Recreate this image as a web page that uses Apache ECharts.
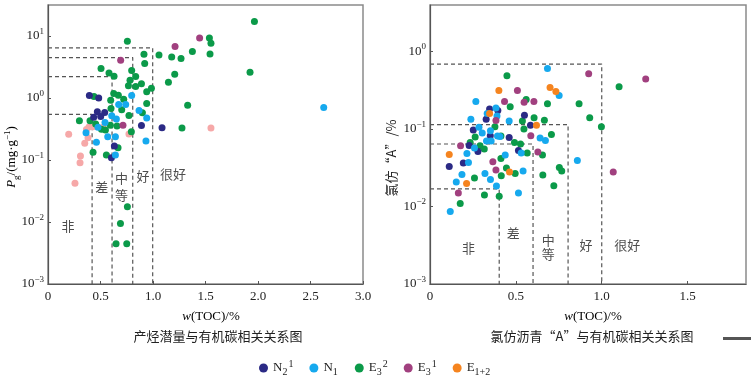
<!DOCTYPE html>
<html><head><meta charset="utf-8">
<script src="https://cdn.jsdelivr.net/npm/echarts@6/dist/echarts.min.js"></script>
<style>html,body{margin:0;padding:0;background:#fff}#c{width:751px;height:375px}</style>
</head><body><div id="c"></div><script>
// ---------- data (left: Pg vs TOC) ----------
const leftN21 = [[0.394,1.10],[0.483,1.0],[0.47,0.60],[0.435,0.49],[0.502,0.505],[0.54,0.585],[0.632,0.168],[0.604,0.109],[0.89,0.36],[1.086,0.33]];
const leftN1 = [[0.797,1.10],[0.673,0.787],[0.74,0.787],[0.607,0.516],[0.651,0.457],[0.867,0.63],[0.94,0.474],[0.543,0.404],[0.476,0.336],[0.362,0.275],[0.569,0.237],[0.642,0.237],[0.461,0.193],[0.642,0.12],[0.933,0.202],[2.626,0.70]];
const leftE32 = [[0.756,8.2],[0.505,2.99],[0.581,2.54],[0.629,2.25],[0.797,2.77],[0.835,2.22],[0.781,1.94],[0.766,1.57],[0.835,1.53],[0.89,1.69],[0.914,5.08],[0.921,3.6],[0.94,1.26],[0.985,1.44],[0.94,0.817],[0.899,0.577],[1.057,4.95],[1.178,4.59],[1.267,4.33],[1.375,5.61],[1.207,2.42],[1.147,1.80],[1.537,9.29],[1.552,7.63],[1.543,5.13],[1.966,17.1],[1.924,2.61],[1.33,0.767],[1.276,0.327],[0.438,1.06],[0.299,0.429],[0.626,1.18],[0.67,1.11],[0.721,0.958],[0.597,0.92],[0.6,0.679],[0.702,0.645],[0.771,0.524],[0.4,0.429],[0.454,0.38],[0.509,0.312],[0.547,0.304],[0.594,0.365],[0.657,0.352],[0.794,0.285],[0.429,0.133],[0.556,0.12],[0.667,0.158],[0.756,0.0177],[0.69,0.00944],[0.648,0.00445],[0.75,0.00445]];
const leftE31 = [[0.692,4.06],[1.444,9.29],[1.21,6.75],[0.714,0.362]];
const leftOther = [[0.197,0.26],[0.39,0.34],[0.381,0.229],[0.35,0.186],[0.524,0.336],[0.309,0.116],[0.305,0.0905],[0.257,0.0423],[0.771,0.262],[1.552,0.327],[0.429,0.344],[0.366,0.31]];
// ---------- data (right: chloroform bitumen "A" vs TOC) ----------
const rightN21 = [[0.347,0.181],[0.327,0.134],[0.395,0.173],[0.55,0.15],[0.585,0.112],[0.252,0.0969],[0.351,0.0818],[0.461,0.0778],[0.228,0.0613],[0.279,0.0513],[0.515,0.0528],[0.112,0.0329],[0.194,0.0364]];
const rightN1 = [[0.684,0.604],[0.267,0.226],[0.238,0.134],[0.333,0.159],[0.384,0.186],[0.39,0.147],[0.461,0.127],[0.285,0.105],[0.352,0.0949],[0.304,0.0887],[0.329,0.0699],[0.356,0.0699],[0.393,0.081],[0.407,0.0801],[0.259,0.0568],[0.215,0.0483],[0.224,0.037],[0.438,0.0461],[0.531,0.0489],[0.542,0.0287],[0.641,0.0764],[0.672,0.0711],[0.752,0.271],[0.858,0.0393],[0.186,0.0259],[0.32,0.0267],[0.352,0.0223],[0.153,0.0207],[0.387,0.0184],[0.515,0.0149],[0.118,0.00863]];
const rightE32 = [[0.448,0.486],[0.56,0.24],[0.467,0.194],[0.684,0.211],[0.606,0.14],[0.666,0.13],[0.538,0.127],[0.547,0.0998],[0.378,0.107],[0.263,0.0787],[0.413,0.081],[0.492,0.067],[0.527,0.064],[0.566,0.0489],[0.655,0.0461],[0.707,0.085],[0.868,0.211],[0.93,0.14],[0.998,0.107],[1.101,0.351],[0.234,0.067],[0.291,0.0608],[0.316,0.0551],[0.413,0.0417],[0.445,0.0313],[0.415,0.0249],[0.496,0.0267],[0.753,0.0319],[0.767,0.0287],[0.657,0.0255],[0.259,0.0233],[0.721,0.0185],[0.317,0.0141],[0.403,0.0136],[0.176,0.0109]];
const rightE31 = [[0.924,0.515],[1.256,0.441],[1.067,0.0278],[0.509,0.314],[0.434,0.226],[0.548,0.222],[0.605,0.226],[0.384,0.129],[0.587,0.0818],[0.628,0.0504],[0.178,0.0608],[0.366,0.0378],[0.384,0.0295],[0.165,0.0149]];
const rightE12 = [[0.401,0.314],[0.699,0.343],[0.733,0.305],[0.62,0.112],[0.347,0.159],[0.112,0.0469],[0.213,0.0198],[0.463,0.0278]];
// grade threshold corners [TOC, value]
const leftThresholds = [[0.42,0.544],[0.61,2.22],[0.807,4.49],[0.997,6.41]];
const rightThresholds = [[0.403,0.0169],[0.6,0.064],[0.804,0.114],[1.0,0.688]];
// grade labels
const gradeLabels = ['非','差','中','等','好','很好'];
const leftGradePos = [[0.19,0.0085],[0.511,0.0372],[0.7,0.0508],[0.7,0.0273],[0.905,0.0558],[1.19,0.0594]];
const rightGradePos = [[0.224,0.00291],[0.485,0.00455],[0.688,0.00373],[0.688,0.00246],[0.909,0.00315],[1.149,0.00315]];
// legend
const legendNames = ['N21','N1','E32','E31','E12'];
const legendText = {N21:'{b|N}{sub|2}{sup|1}',N1:'{b|N}{sub|1}',E32:'{b|E}{sub|3}{sup|2}',E31:'{b|E}{sub|3}{sup|1}',E12:'{b|E}{sub|1+2}'};

const SERIF = '"Liberation Serif","Times New Roman","Noto Sans CJK SC",serif';
const CJK = '"Noto Sans CJK SC","Liberation Serif",sans-serif';
const colors = {N21:'#2b2a85',N1:'#16a9ee',E32:'#0b9a49',E31:'#a1407f',E12:'#f5841f',other:'#f6a8a8'};

const supRich = {
  b:{fontFamily:SERIF,fontSize:13,lineHeight:18,color:'#222'},
  i:{fontFamily:SERIF,fontSize:13,lineHeight:18,fontStyle:'italic',color:'#222'},
  sub:{fontFamily:SERIF,fontSize:9,lineHeight:10,verticalAlign:'bottom',color:'#222'},
  sup:{fontFamily:SERIF,fontSize:9,lineHeight:10,verticalAlign:'top',color:'#222'},
  s:{fontFamily:SERIF,fontSize:9,lineHeight:10,verticalAlign:'top',color:'#222'}
};
const legendRich = {
  b:{fontFamily:SERIF,fontSize:13,lineHeight:18,color:'#222'},
  sub:{fontFamily:SERIF,fontSize:10,lineHeight:10,verticalAlign:'bottom',color:'#222',padding:[0,1,0,0]},
  sup:{fontFamily:SERIF,fontSize:10,lineHeight:10,verticalAlign:'top',color:'#222'}
};
function logLabel(v){
  const e = Math.round(Math.log10(v));
  return '{b|10}{s|' + (e < 0 ? '\u2212' + (-e) : e) + '}';
}
function xLabel(v){ return v === 0 ? '0' : v.toFixed(1); }

const chart = echarts.init(document.getElementById('c'), null, {renderer:'canvas'});
const gridBase = {show:true,borderColor:'#8a8a8a',borderWidth:1.5,backgroundColor:'transparent',outerBoundsMode:'none',containLabel:false};
const axisCommonX = {
  type:'value', interval:0.5, min:0,
  axisLine:{show:true,lineStyle:{color:'#555',width:1.2}},
  axisTick:{show:true,inside:true,length:3,lineStyle:{color:'#555'}},
  splitLine:{show:false},
  axisLabel:{formatter:xLabel,fontFamily:SERIF,fontSize:13,color:'#222',margin:6,showMaxLabel:true}
};
const axisCommonY = {
  type:'log', logBase:10, min:0.001,
  axisLine:{show:true,lineStyle:{color:'#555',width:1.2}},
  axisTick:{show:true,inside:true,length:3,lineStyle:{color:'#555'}},
  splitLine:{show:false},
  axisLabel:{formatter:logLabel,rich:supRich,margin:4,showMaxLabel:false}
};

function scatter(name,data,xi,color){
  return {type:'scatter',name:name,data:data,xAxisIndex:xi,yAxisIndex:xi,symbolSize:7,
    itemStyle:{color:color,opacity:1},z:3};
}
function threshold(t,xi){
  return {type:'line',data:[[0,t[1]],[t[0],t[1]],[t[0],0.001]],xAxisIndex:xi,yAxisIndex:xi,
    symbol:'none',silent:true,z:2,lineStyle:{color:'#555',width:1.2,type:[4,3]}};
}
function grades(pos,xi){
  return {type:'scatter',xAxisIndex:xi,yAxisIndex:xi,symbolSize:0,silent:true,z:4,
    data:pos.map((p,i)=>({value:p,name:gradeLabels[i]})),
    label:{show:true,position:'inside',formatter:p=>p.name,fontFamily:CJK,fontSize:13,color:'#222'}};
}

const series = [
  scatter('other',leftOther,0,colors.other),
  scatter('E32',leftE32,0,colors.E32),
  scatter('N21',leftN21,0,colors.N21),
  scatter('N1',leftN1,0,colors.N1),
  scatter('E31',leftE31,0,colors.E31),
  scatter('E32',rightE32,1,colors.E32),
  scatter('N21',rightN21,1,colors.N21),
  scatter('N1',rightN1,1,colors.N1),
  scatter('E31',rightE31,1,colors.E31),
  scatter('E12',rightE12,1,colors.E12),
  grades(leftGradePos,0),
  grades(rightGradePos,1)
];
leftThresholds.forEach(t=>series.push(threshold(t,0)));
rightThresholds.forEach(t=>series.push(threshold(t,1)));

chart.setOption({
  animation:false,
  backgroundColor:'#fff',
  grid:[
    Object.assign({left:48,top:5,width:315,height:279},gridBase),
    Object.assign({left:430,top:5,width:316,height:279},gridBase)
  ],
  xAxis:[
    Object.assign({},axisCommonX,{gridIndex:0,max:3.0}),
    Object.assign({},axisCommonX,{gridIndex:1,max:1.84,axisLabel:Object.assign({},axisCommonX.axisLabel,{showMaxLabel:false})})
  ],
  yAxis:[
    Object.assign({},axisCommonY,{gridIndex:0,max:Math.pow(10,1.5)}),
    Object.assign({},axisCommonY,{gridIndex:1,max:Math.pow(10,0.6)})
  ],
  legend:{
    data:legendNames.map(n=>({name:n,icon:'circle'})),
    left:254, top:354, itemWidth:9, itemHeight:9, itemGap:16,
    formatter:n=>legendText[n],
    textStyle:{rich:legendRich,fontFamily:SERIF,fontSize:13,color:'#222'}
  },
  graphic:[
    {type:'text',x:12,y:157,rotation:Math.PI/2,style:{text:'{i|P}{sub|g}{b|/(mg·g}{sup|\u22121}{b|)}',rich:supRich,align:'center',verticalAlign:'middle'}},
    {type:'text',x:391,y:158,rotation:Math.PI/2,style:{text:'氯仿“A”/%',font:'13px '+CJK,fill:'#222',align:'center',verticalAlign:'middle'}},
    {type:'text',x:211,y:317,style:{text:'{i|w}{b|(TOC)/%}',rich:supRich,align:'center',verticalAlign:'middle'}},
    {type:'text',x:593,y:317,style:{text:'{i|w}{b|(TOC)/%}',rich:supRich,align:'center',verticalAlign:'middle'}},
    {type:'text',x:218,y:336,style:{text:'产烃潜量与有机碳相关关系图',font:'13px '+CJK,fill:'#222',align:'center',verticalAlign:'middle'}},
    {type:'text',x:592,y:336,style:{text:'氯仿沥青“A”与有机碳相关关系图',font:'13px '+CJK,fill:'#222',align:'center',verticalAlign:'middle'}},
    {type:'rect',shape:{x:723,y:337,width:28,height:3},style:{fill:'#555'}}
  ],
  series:series
});
</script></body></html>
